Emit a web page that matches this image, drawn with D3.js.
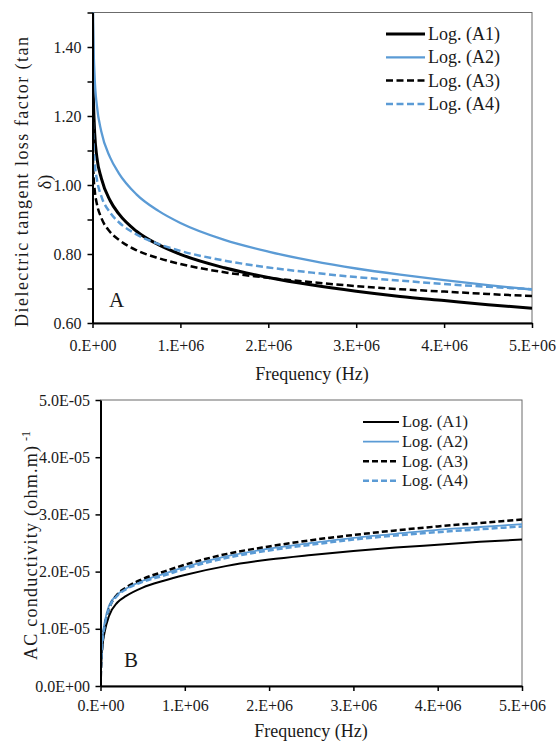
<!DOCTYPE html>
<html>
<head>
<meta charset="utf-8">
<script src="https://cdn.jsdelivr.net/npm/d3@7"></script>
<style>
body { margin: 0; background: #fff; }
svg text { font-family: "Liberation Serif", "Times New Roman", Times, serif !important; fill: #1a1a1a; }
</style>
</head>
<body>
<svg id="chart" width="556" height="743"></svg>
<script>
// legend names
var seriesNames = ["Log. (A1)", "Log. (A2)", "Log. (A3)", "Log. (A4)"];

// panel A : dielectric tangent loss factor
var freqA = [1, 100, 1000, 5000, 10000, 25000, 50000, 100000, 200000, 300000, 500000, 750000,
  1000000, 1500000, 2000000, 2500000, 3000000, 3500000, 4000000, 4500000, 5000000];
var tanA1 = [2.14, 1.69, 1.47, 1.31, 1.25, 1.15, 1.08, 1.02, 0.955, 0.916, 0.866, 0.827,
  0.799, 0.760, 0.732, 0.710, 0.692, 0.677, 0.665, 0.653, 0.643];
var tanA2 = [2.55, 1.99, 1.72, 1.52, 1.43, 1.31, 1.23, 1.155, 1.08, 1.034, 0.973, 0.925,
  0.890, 0.841, 0.807, 0.780, 0.758, 0.740, 0.724, 0.710, 0.697];
var tanA3 = [1.57, 1.305, 1.172, 1.078, 1.038, 0.985, 0.945, 0.905, 0.864, 0.841, 0.811, 0.788,
  0.771, 0.747, 0.731, 0.718, 0.707, 0.698, 0.691, 0.684, 0.678];
var tanA4 = [1.76, 1.444, 1.286, 1.175, 1.127, 1.064, 1.016, 0.968, 0.920, 0.892, 0.857, 0.829,
  0.809, 0.781, 0.761, 0.746, 0.733, 0.723, 0.713, 0.705, 0.698];
var yTicksA = [0.6, 0.7, 0.8, 0.9, 1.0, 1.1, 1.2, 1.3, 1.4, 1.5];
var yLabelsA = ["0.60", "", "0.80", "", "1.00", "", "1.20", "", "1.40", ""];

// panel B : AC conductivity (units of 1E-05)
var freqB = [1000, 5000, 10000, 25000, 50000, 100000, 200000, 300000, 500000, 750000,
  1000000, 1500000, 2000000, 2500000, 3000000, 3500000, 4000000, 4500000, 5000000];
var condA1 = [0.0, 0.25, 0.42, 0.72, 0.95, 1.22, 1.46, 1.57, 1.72, 1.84,
  1.94, 2.10, 2.21, 2.29, 2.36, 2.42, 2.47, 2.52, 2.56];
var condA2 = [0.0, 0.32, 0.52, 0.86, 1.12, 1.40, 1.60, 1.70, 1.84, 1.96,
  2.08, 2.27, 2.40, 2.50, 2.59, 2.66, 2.73, 2.78, 2.83];
var condA3 = [0.0, 0.26, 0.45, 0.78, 1.04, 1.34, 1.60, 1.72, 1.87, 2.00,
  2.12, 2.31, 2.44, 2.55, 2.64, 2.72, 2.79, 2.85, 2.91];
var condA4 = [0.0, 0.28, 0.47, 0.80, 1.06, 1.35, 1.58, 1.69, 1.82, 1.93,
  2.05, 2.24, 2.37, 2.47, 2.56, 2.63, 2.69, 2.74, 2.79];
var yTicksB = [0, 1, 2, 3, 4, 5];
var yLabelsB = ["0.0E+00", "1.0E-05", "2.0E-05", "3.0E-05", "4.0E-05", "5.0E-05"];

var xTicks = [0, 1000000, 2000000, 3000000, 4000000, 5000000];
var xLabels = ["0.E+00", "1.E+06", "2.E+06", "3.E+06", "4.E+06", "5.E+06"];

var blue = "#5b9bd5";
var svg = d3.select("#chart");

function drawPanel(opt) {
  var g = svg.append("g");
  var x = d3.scaleLinear().domain([0, 5000000]).range([opt.left, opt.right]);
  var y = d3.scaleLinear().domain(opt.yDomain).range([opt.bottom, opt.top]);

  // plot area border
  g.append("rect")
    .attr("x", opt.left).attr("y", opt.top)
    .attr("width", opt.right - opt.left).attr("height", opt.bottom - opt.top)
    .attr("fill", "none").attr("stroke", "#6b6b6b").attr("stroke-width", 1);

  svg.append("clipPath").attr("id", "clip" + opt.id)
    .append("rect")
    .attr("x", opt.left).attr("y", opt.top)
    .attr("width", opt.right - opt.left).attr("height", opt.bottom - opt.top);

  var line = d3.line()
    .x(function(d){ return x(d[0]); })
    .y(function(d){ return y(d[1]); })
    .curve(d3.curveMonotoneX);

  var styles = opt.styles;
  opt.series.forEach(function(s, i){
    g.append("path")
      .datum(d3.zip(opt.freq, s))
      .attr("clip-path", "url(#clip" + opt.id + ")")
      .attr("d", line)
      .attr("fill", "none")
      .attr("stroke", styles[i].color)
      .attr("stroke-width", styles[i].width)
      .attr("stroke-dasharray", styles[i].dash);
  });

  // axes
  var yAxis = d3.axisLeft(y)
    .tickValues(opt.yTicks)
    .tickSize(5)
    .tickSizeOuter(0)
    .tickPadding(opt.yPad)
    .tickFormat(function(d, i){ return opt.yLabels[i]; });
  var ya = g.append("g").attr("transform", "translate(" + opt.left + ",0)").call(yAxis);

  var xAxis = d3.axisBottom(x)
    .tickValues(xTicks)
    .tickSize(5)
    .tickSizeOuter(0)
    .tickPadding(opt.xPad)
    .tickFormat(function(d, i){ return xLabels[i]; });
  var xa = g.append("g").attr("transform", "translate(0," + opt.bottom + ")").call(xAxis);

  [ya, xa].forEach(function(a){
    a.attr("font-family", null).attr("font-size", null);
    a.select(".domain").attr("stroke", "#000").attr("stroke-width", 2);
    a.selectAll(".tick line").attr("stroke", "#000").attr("stroke-width", 1.5);
    a.selectAll(".tick text")
      .attr("font-size", 16)
      .attr("fill", "#1a1a1a");
  });

  // x axis title
  g.append("text")
    .attr("x", opt.xTitleX).attr("y", opt.xTitleY)
    .attr("text-anchor", "middle")
    .attr("font-size", 18)
    .text("Frequency (Hz)");

  // panel letter
  g.append("text")
    .attr("x", opt.letterX).attr("y", opt.letterY)
    .attr("font-size", 21)
    .text(opt.letter);

  // legend
  opt.series.forEach(function(s, i){
    var cy = opt.legY + i * opt.legStep;
    g.append("line")
      .attr("x1", opt.legX1).attr("x2", opt.legX2)
      .attr("y1", cy).attr("y2", cy)
      .attr("stroke", styles[i].color)
      .attr("stroke-width", styles[i].width)
      .attr("stroke-dasharray", styles[i].dash);
    g.append("text")
      .attr("x", opt.legX2 + 3).attr("y", cy + opt.legFont * 0.33)
      .attr("font-size", opt.legFont)
      .text(seriesNames[i]);
  });
  return g;
}

var gA = drawPanel({
  id: "A", left: 92.5, right: 532, top: 12.5, bottom: 323,
  yDomain: [0.6, 1.5], yTicks: yTicksA, yLabels: yLabelsA, yPad: 6, xPad: 12,
  freq: freqA, series: [tanA1, tanA2, tanA3, tanA4],
  styles: [
    { color: "#000", width: 3, dash: null },
    { color: blue, width: 2.3, dash: null },
    { color: "#000", width: 2.5, dash: "7,3.5" },
    { color: blue, width: 2.5, dash: "7,3.5" }
  ],
  xTitleX: 312, xTitleY: 380, letter: "A", letterX: 109, letterY: 307,
  legX1: 386, legX2: 425, legY: 34, legStep: 23.3, legFont: 18
});

gA.append("text")
  .attr("transform", "translate(28,327) rotate(-90)")
  .attr("font-size", 18)
  .attr("textLength", 290)
  .attr("lengthAdjust", "spacing")
  .text("Dielectric tangent loss factor (tan");
gA.append("text")
  .attr("transform", "translate(51,182) rotate(-90)")
  .attr("text-anchor", "middle")
  .attr("font-size", 18)
  .text("δ)");

var gB = drawPanel({
  id: "B", left: 100.5, right: 522, top: 400, bottom: 686,
  yDomain: [0, 5], yTicks: yTicksB, yLabels: yLabelsB, yPad: 5.5, xPad: 9,
  freq: freqB, series: [condA1, condA2, condA3, condA4],
  styles: [
    { color: "#000", width: 2, dash: null },
    { color: blue, width: 1.8, dash: null },
    { color: "#000", width: 2.5, dash: "6,3" },
    { color: blue, width: 2.5, dash: "6,3" }
  ],
  xTitleX: 311, xTitleY: 737, letter: "B", letterX: 124, letterY: 667,
  legX1: 363, legX2: 399, legY: 422, legStep: 19.6, legFont: 16.5
});

gB.append("text")
  .attr("transform", "translate(37,660) rotate(-90)")
  .attr("font-size", 18)
  .attr("textLength", 214)
  .attr("lengthAdjust", "spacing")
  .text("AC conductivity (ohm.m)");
gB.append("text")
  .attr("transform", "translate(30,441) rotate(-90)")
  .attr("font-size", 12)
  .text("-1");
</script>
</body>
</html>
